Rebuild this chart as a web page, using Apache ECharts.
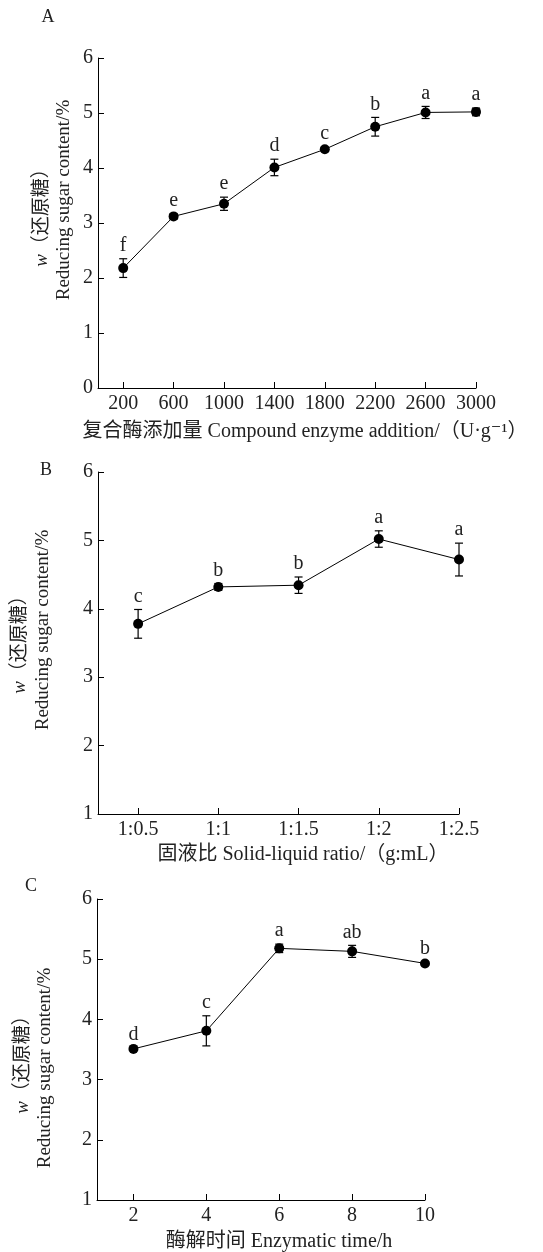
<!DOCTYPE html>
<html><head><meta charset="utf-8">
<script src="https://cdn.jsdelivr.net/npm/echarts@6/dist/echarts.min.js"></script>
<style>html,body{margin:0;padding:0;background:#fff}#c{width:543px;height:1252px}</style>
</head><body><div id="c"></div>
<script>
// Panel A: compound enzyme addition (U/g)
const doseX = [200, 600, 1000, 1400, 1800, 2200, 2600, 3000];
const doseY = [2.18, 3.12, 3.35, 4.01, 4.34, 4.75, 5.01, 5.02];
const doseErr = [0.17, 0.05, 0.12, 0.15, 0.04, 0.17, 0.11, 0.07];
const doseSig = ['f', 'e', 'e', 'd', 'c', 'b', 'a', 'a'];
// Panel B: solid-liquid ratio
const ratioX = [0.5, 1, 1.5, 2, 2.5];
const ratioLabels = ['1:0.5', '1:1', '1:1.5', '1:2', '1:2.5'];
const ratioY = [3.78, 4.32, 4.345, 5.02, 4.72];
const ratioErr = [0.21, 0.05, 0.12, 0.12, 0.24];
const ratioSig = ['c', 'b', 'b', 'a', 'a'];
// Panel C: enzymatic time (h)
const timeX = [2, 4, 6, 8, 10];
const timeY = [3.51, 3.81, 5.18, 5.13, 4.93];
const timeErr = [0.02, 0.25, 0.07, 0.10, 0.02];
const timeSig = ['d', 'c', 'a', 'ab', 'b'];

const SERIF = "'Liberation Serif','DejaVu Serif','Noto Sans CJK SC',serif";
const TXT = '#222';
const chart = echarts.init(document.getElementById('c'), null, {renderer: 'canvas'});

function xAxis(gi, min, max, ticks, fmt) {
  return {
    type: 'value', gridIndex: gi, min: min, max: max,
    splitLine: {show: false},
    axisLine: {show: true, onZero: false, lineStyle: {color: '#000', width: 1}},
    axisTick: {show: true, inside: true, length: 6, customValues: ticks, lineStyle: {color: '#000'}},
    axisLabel: {customValues: ticks, formatter: fmt, fontFamily: SERIF, fontSize: 20, color: TXT, margin: 6}
  };
}
function yAxis(gi, min) {
  return {
    type: 'value', gridIndex: gi, min: min, max: 6, interval: 1,
    splitLine: {show: false},
    axisLine: {show: true, onZero: false, lineStyle: {color: '#000', width: 1}},
    axisTick: {show: true, inside: true, length: 6, lineStyle: {color: '#000'}},
    axisLabel: {fontFamily: SERIF, fontSize: 20, color: TXT, margin: 5}
  };
}
function lineSeries(gi, xs, ys) {
  return {
    type: 'line', xAxisIndex: gi, yAxisIndex: gi, z: 3,
    data: xs.map((x, i) => [x, ys[i]]),
    symbol: 'circle', symbolSize: 10,
    itemStyle: {color: '#000'}, lineStyle: {color: '#000', width: 1},
    animation: false
  };
}
function errSeries(gi, xs, ys, es, sig) {
  return {
    type: 'custom', xAxisIndex: gi, yAxisIndex: gi, z: 2,
    data: xs.map((x, i) => [x, ys[i], es[i]]),
    animation: false,
    renderItem: function (params, api) {
      const x = api.value(0), y = api.value(1), e = api.value(2);
      const p = api.coord([x, y + e]), q = api.coord([x, y - e]);
      const hw = 4, st = {stroke: '#000', lineWidth: 1.2};
      return {type: 'group', children: [
        {type: 'line', shape: {x1: p[0], y1: p[1], x2: q[0], y2: q[1]}, style: st},
        {type: 'line', shape: {x1: p[0] - hw, y1: p[1], x2: p[0] + hw, y2: p[1]}, style: st},
        {type: 'line', shape: {x1: q[0] - hw, y1: q[1], x2: q[0] + hw, y2: q[1]}, style: st},
        {type: 'text', x: p[0], y: p[1] - 3, style: {text: sig[params.dataIndex], align: 'center', verticalAlign: 'bottom', fontFamily: SERIF, fontSize: 20, fill: TXT}}
      ]};
    }
  };
}
function yTitle(x1, y1, x2, y2) {
  return [
    {type: 'text', x: x1, y: y1, rotation: Math.PI / 2,
     style: {text: '{i|w}（还原糖）', align: 'center', verticalAlign: 'middle', fontFamily: SERIF, fontSize: 19, fill: TXT,
             rich: {i: {fontFamily: SERIF, fontStyle: 'italic', fontSize: 19, fill: TXT}}}},
    {type: 'text', x: x2, y: y2, rotation: Math.PI / 2,
     style: {text: 'Reducing sugar content/%', align: 'center', verticalAlign: 'middle', fontFamily: SERIF, fontSize: 19, fill: TXT}}
  ];
}
function plainText(t, x, y, size) {
  return {type: 'text', x: x, y: y, style: {text: t, align: 'center', verticalAlign: 'middle', fontFamily: SERIF, fontSize: size, fill: TXT}};
}

const option = {
  backgroundColor: '#fff',
  animation: false,
  grid: [
    {left: 98, top: 58, width: 378, height: 330},
    {left: 98, top: 472, width: 361, height: 342},
    {left: 97, top: 899, width: 328, height: 301}
  ],
  xAxis: [
    xAxis(0, 0, 3000, doseX, v => String(v)),
    xAxis(1, 0.25, 2.5, ratioX, v => ratioLabels[ratioX.indexOf(v)] || ''),
    xAxis(2, 1, 10, timeX, v => String(v))
  ],
  yAxis: [yAxis(0, 0), yAxis(1, 1), yAxis(2, 1)],
  series: [
    errSeries(0, doseX, doseY, doseErr, doseSig), lineSeries(0, doseX, doseY),
    errSeries(1, ratioX, ratioY, ratioErr, ratioSig), lineSeries(1, ratioX, ratioY),
    errSeries(2, timeX, timeY, timeErr, timeSig), lineSeries(2, timeX, timeY)
  ],
  graphic: [
    plainText('A', 48, 17, 18), plainText('B', 46, 470, 18), plainText('C', 31, 886, 18),
    plainText('复合酶添加量 Compound enzyme addition/（U·g⁻¹）', 305, 432, 20),
    plainText('固液比 Solid-liquid ratio/（g:mL）', 303, 855, 20),
    plainText('酶解时间 Enzymatic time/h', 279, 1242, 20)
  ].concat(yTitle(42, 213, 64, 200), yTitle(20, 640, 43, 630), yTitle(23, 1060, 45, 1068))
};
chart.setOption(option);
</script></body></html>
